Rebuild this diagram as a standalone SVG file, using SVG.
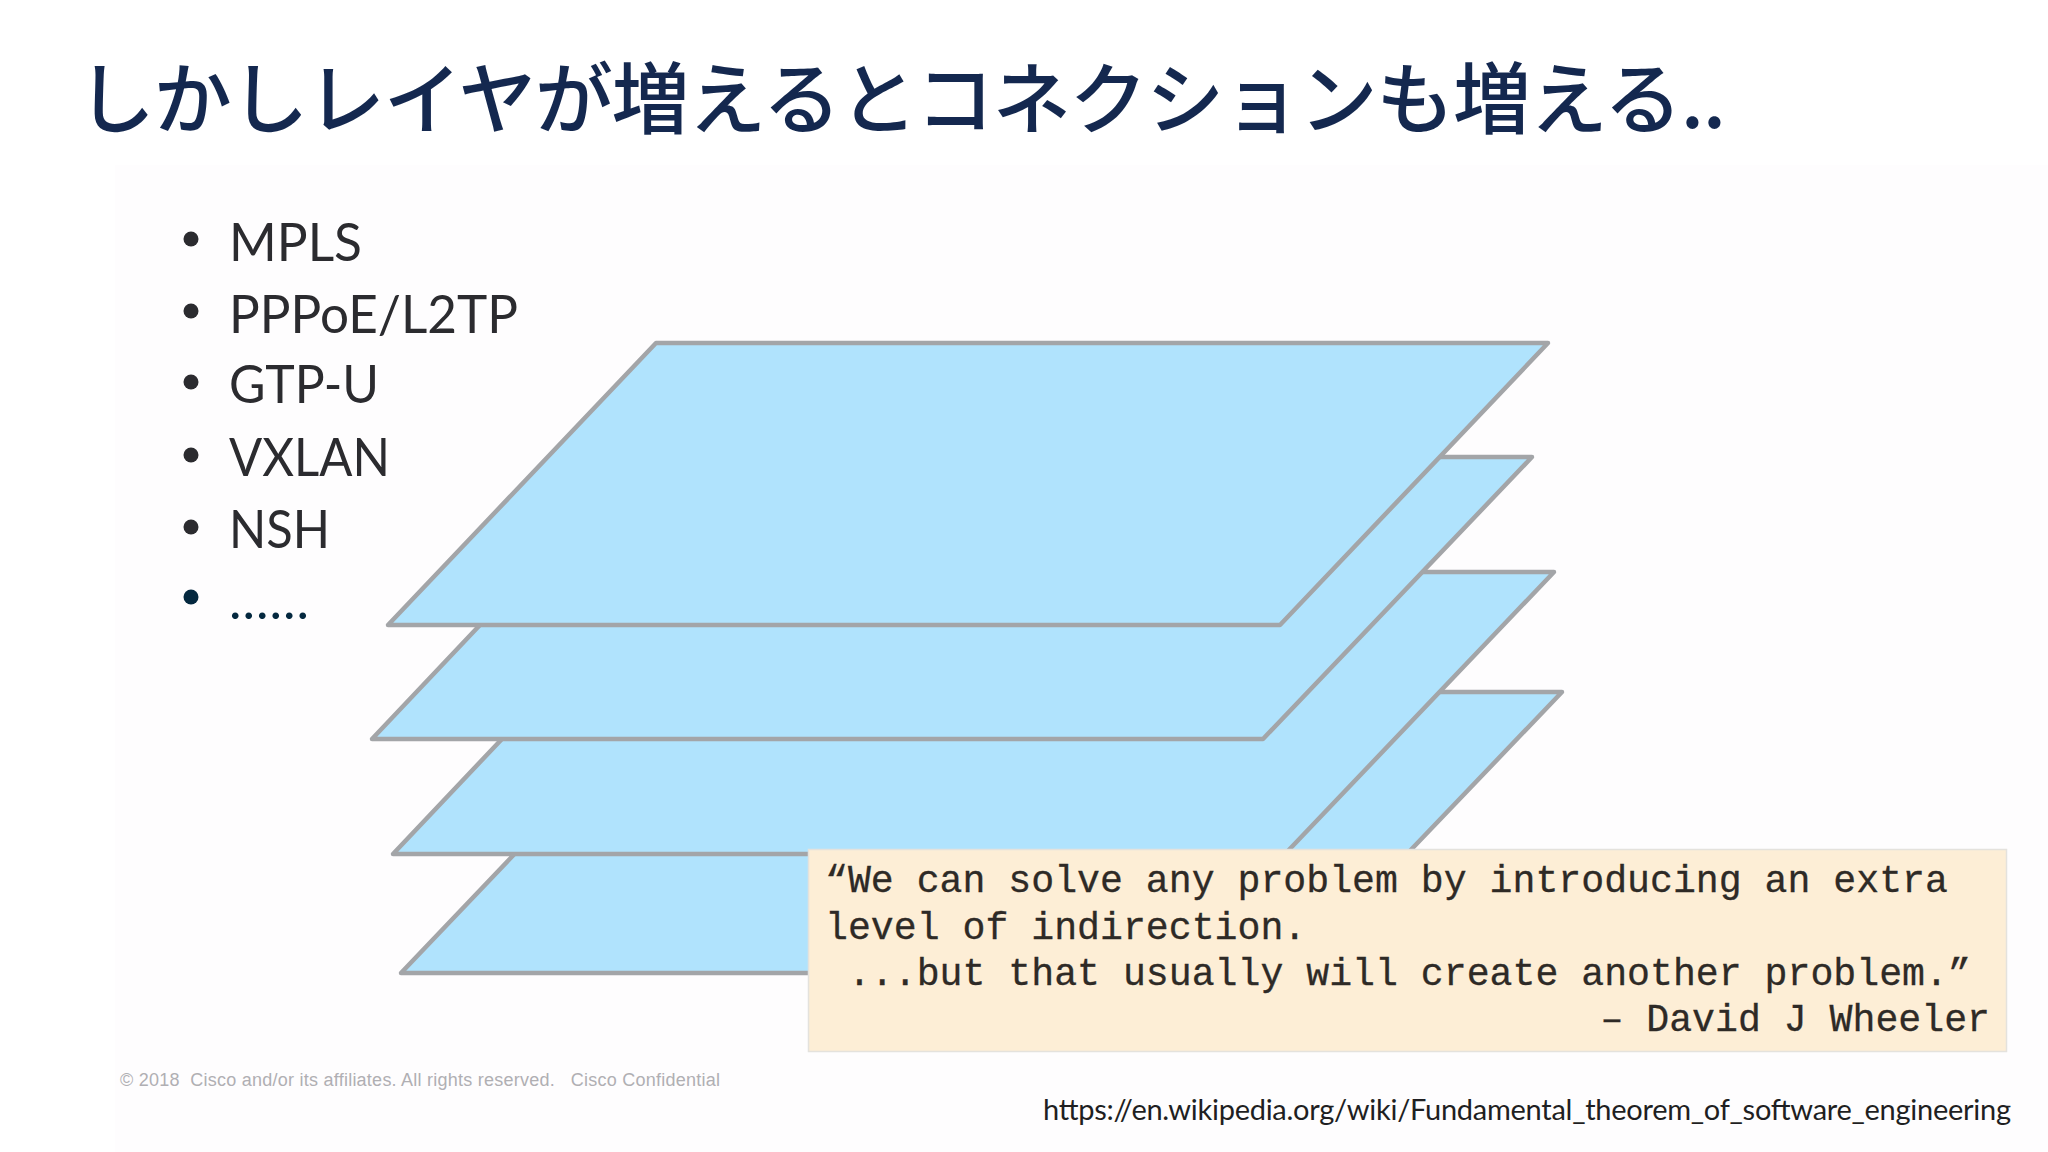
<svg xmlns="http://www.w3.org/2000/svg" width="2048" height="1152" viewBox="0 0 2048 1152">
<style>
.plane{fill:#b0e3fd;stroke:#a3a5a8;stroke-width:4.5;stroke-linejoin:round}
.li{font-family:"Lato","Liberation Sans",sans-serif;font-size:53px;fill:#2b2b2f}
.q{font-family:"Liberation Mono",monospace;font-size:38.200px;fill:#2e2a26;stroke:#2e2a26;stroke-width:0.300}
</style>
<rect width="2048" height="1152" fill="#ffffff"/>
<rect x="115" y="165" width="1933" height="987" fill="#fefdfe"/>
<text id="title" x="77" y="128" font-family="'Noto Sans CJK JP',sans-serif" font-size="78" font-weight="500" fill="#14284f" textLength="1649">しかしレイヤが増えるとコネクションも増える..</text>
<g id="list">
<circle cx="191" cy="239" r="7.500" fill="#2b2b2f"/><text class="li" x="229" y="261" textLength="133" lengthAdjust="spacingAndGlyphs">MPLS</text>
<circle cx="191" cy="311" r="7.500" fill="#2b2b2f"/><text class="li" x="229" y="333" textLength="289" lengthAdjust="spacingAndGlyphs">PPPoE/L2TP</text>
<circle cx="191" cy="382" r="7.500" fill="#2b2b2f"/><text class="li" x="229" y="403" textLength="150" lengthAdjust="spacingAndGlyphs">GTP-U</text>
<circle cx="191" cy="455" r="7.500" fill="#2b2b2f"/><text class="li" x="229" y="476" textLength="161" lengthAdjust="spacingAndGlyphs">VXLAN</text>
<circle cx="191" cy="527" r="7.500" fill="#2b2b2f"/><text class="li" x="229" y="548" textLength="101" lengthAdjust="spacingAndGlyphs">NSH</text>
<circle cx="191" cy="597" r="7.500" fill="#04283f"/><text class="li" x="229" y="619" style="fill:#04283f" textLength="80">......</text>
</g>
<g id="layers">
<polygon id="layer4" class="plane" points="669,692 1562,692 1293,973 401,973"/>
<polygon id="layer3" class="plane" points="660,572 1554,572 1285,854 393,854"/>
<polygon id="layer2" class="plane" points="639,457 1532,457 1263,739 372,739"/>
<polygon id="layer1" class="plane" points="656,343 1548,343 1280,625 388,625"/>
</g>
<g id="quote">
<rect x="808.500" y="849.500" width="1198" height="202" fill="#fdeed6" stroke="#e4e2dd" stroke-width="1.500"/>
<text class="q" x="825" y="892">“We can solve any problem by introducing an extra</text>
<text class="q" x="825" y="939">level of indirection.</text>
<text class="q" x="825" y="985" xml:space="preserve"> ...but that usually will create another problem.”</text>
<text class="q" x="1990" y="1031" text-anchor="end">– David J Wheeler</text>
</g>
<text id="copyright" x="120" y="1086" font-family="'Liberation Sans',sans-serif" font-size="18" fill="#b0afb3" xml:space="preserve" textLength="600">© 2018  Cisco and/or its affiliates. All rights reserved.   Cisco Confidential</text>
<text id="url" x="1043" y="1120" font-family="'Lato','Liberation Sans',sans-serif" font-size="29" fill="#1f1f22" textLength="968">https://en.wikipedia.org/wiki/Fundamental_theorem_of_software_engineering</text>
</svg>
